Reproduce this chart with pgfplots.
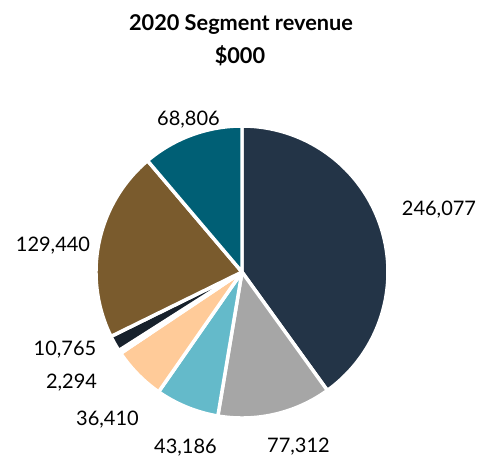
\documentclass[border=0pt]{standalone}
\usepackage{pgfplots}
\pgfplotsset{compat=1.18}
\usepackage{fontspec}
\setmainfont{Lato}
\definecolor{cNavy}{HTML}{233447}
\definecolor{cGrey}{HTML}{A6A6A6}
\definecolor{cLBlue}{HTML}{64BACA}
\definecolor{cPeach}{HTML}{FFCB99}
\definecolor{cWhite}{HTML}{F4F4F4}
\definecolor{cDark}{HTML}{17212C}
\definecolor{cBrown}{HTML}{7A5B2D}
\definecolor{cTeal}{HTML}{005F75}

\def\total{614290}
\gdef\cum{0}
\newcommand\slice[2]{%
  \edef\sa{\fpeval{90-360*\cum/\total}}%
  \xdef\cum{\fpeval{\cum+#1}}%
  \edef\sb{\fpeval{90-360*\cum/\total}}%
  \edef\tmp{\noexpand\addplot[fill=#2, draw=white, line width=2.6pt, line join=round, domain=\sb:\sa, samples=90] ({cos(x)},{sin(x)}) -- (axis cs:0,0) -- cycle;}\tmp
}

\begin{document}
\begin{tikzpicture}
\begin{scope}[x=0.75pt,y=-0.75pt]
\path (0,0) rectangle (480,458);
\end{scope}
\begin{axis}[at={(181.5pt,-204pt)}, anchor=center, scale only axis, width=219pt, height=219pt,
  xmin=-1, xmax=1, ymin=-1, ymax=1, hide axis, clip=false]
\slice{246077}{cNavy}
\slice{77312}{cGrey}
\slice{43186}{cLBlue}
\slice{36410}{cPeach}
\slice{2294}{cWhite}
\slice{10765}{cDark}
\slice{129440}{cBrown}
\slice{68806}{cTeal}
\end{axis}
\begin{scope}[x=0.75pt,y=-0.75pt,every node/.style={inner sep=0pt, font=\fontsize{15}{18}\selectfont}]
\node[font=\fontsize{16.3}{19}\selectfont\bfseries] at (241,25) {2020 Segment revenue};
\node[font=\fontsize{16.3}{19}\selectfont\bfseries] at (240,56) {\$000};
\node at (188.5,119.5) {68,806};
\node at (439,210) {246,077};
\node at (53,246) {129,440};
\node at (65,350) {10,765};
\node at (71.5,383) {2,294};
\node at (107.5,420) {36,410};
\node at (185.5,448) {43,186};
\node at (298.5,447) {77,312};
\end{scope}
\end{tikzpicture}
\end{document}
